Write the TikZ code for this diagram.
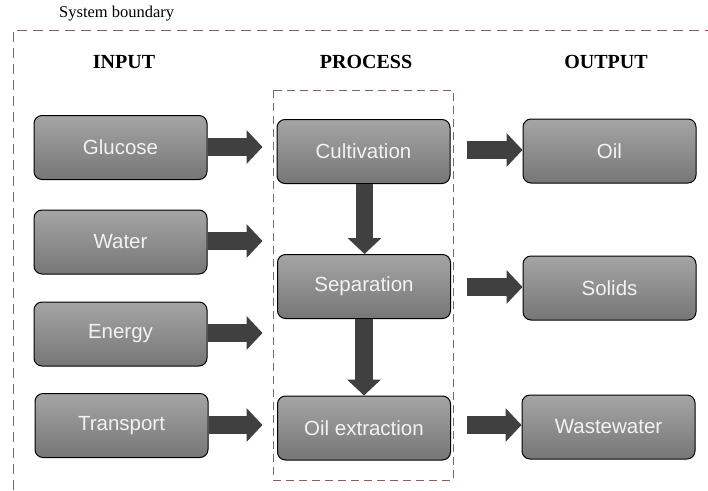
\documentclass[tikz,border=0pt]{standalone}
\usepackage{fontspec}
\setmainfont{Liberation Serif}
\newfontfamily\boxfont{Liberation Sans}
\usetikzlibrary{arrows.meta}
\definecolor{boundc}{RGB}{140,95,95}
\definecolor{boxtop}{RGB}{165,165,165}
\definecolor{boxbot}{RGB}{118,118,118}
\definecolor{arrc}{RGB}{64,64,64}
\tikzset{
  flowbox/.style={draw=black, line width=1pt, rounded corners=8pt,
    top color=boxtop, bottom color=boxbot, minimum width=173pt,
    minimum height=64pt, inner sep=0pt, text=white!95!black,
    font=\boxfont\fontsize{20.5}{24}\selectfont},
  blockarrow/.style={draw=arrc, line width=17.5pt,
    -{Triangle[width=33pt,length=16pt,fill=arrc]}},
  header/.style={font=\bfseries\fontsize{20}{24}\selectfont},
  boundary/.style={draw=boundc, line width=0.9pt, dash pattern=on 10pt off 6pt},
  procbound/.style={draw=boundc, line width=0.8pt, dash pattern=on 8pt off 5pt}
}
\begin{document}
\begin{tikzpicture}[x=1pt,y=-1pt]
\useasboundingbox (0,0) rectangle (708,490);
% system boundary
\draw[boundary] (13,490) -- (13,30) -- (708,30);
\node[anchor=west, font=\fontsize{16.5}{20}\selectfont, inner sep=0pt] (sysb) at (59,14) {System boundary};
% process boundary
\draw[procbound] (273,90) rectangle (453,480);
% headers
\node[header] (hin) at (124,62) {INPUT};
\node[header] (hpr) at (366,62) {PROCESS};
\node[header] (hout) at (606,62) {OUTPUT};
% input boxes
\node[flowbox] (glucose) at (120.5,147.5) {Glucose};
\node[flowbox] (water) at (120.5,242) {Water};
\node[flowbox] (energy) at (120.5,334) {Energy};
\node[flowbox] (transport) at (121.5,425.5) {Transport};
% process boxes
\node[flowbox] (cult) at (363.5,151.5) {Cultivation};
\node[flowbox] (sep) at (364,286.5) {Separation};
\node[flowbox] (oilx) at (364,428) {Oil extraction};
% output boxes
\node[flowbox] (oil) at (609.5,151) {Oil};
\node[flowbox] (solids) at (609.5,288) {Solids};
\node[flowbox] (waste) at (608.5,427) {Wastewater};
% free ends of arrows
\coordinate (gin) at (262.5,147);
\coordinate (win) at (262.5,241);
\coordinate (ein) at (262.5,333);
\coordinate (tin) at (262.5,425);
\coordinate (oout) at (467,150);
\coordinate (sout) at (467,287);
\coordinate (wout) at (467,425);
% input arrows
\draw[blockarrow] (glucose.east |- gin) -- (gin);
\draw[blockarrow] (water.east |- win) -- (win);
\draw[blockarrow] (energy.east |- ein) -- (ein);
\draw[blockarrow] (transport.east |- tin) -- (tin);
% process arrows
\draw[blockarrow] ([xshift=1pt]cult.south) -- ([xshift=0.5pt]sep.north);
\draw[blockarrow] (sep.south) -- (oilx.north);
% output arrows
\draw[blockarrow] (oout) -- (oil.west |- oout);
\draw[blockarrow] (sout) -- (solids.west |- sout);
\draw[blockarrow] (wout) -- (waste.west |- wout);
\end{tikzpicture}
\end{document}
